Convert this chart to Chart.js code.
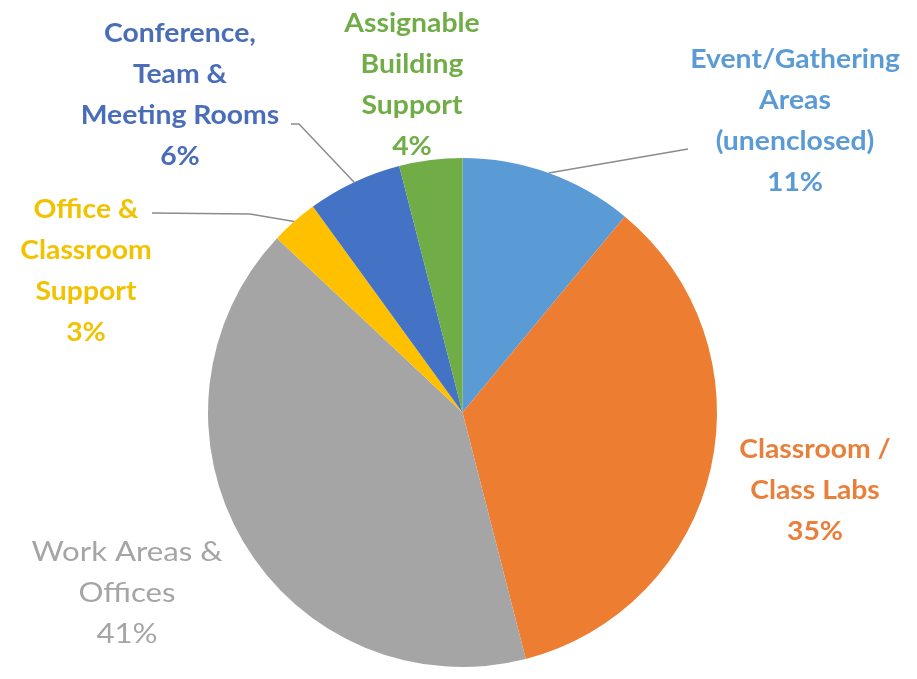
<!DOCTYPE html>
<html>
<head>
<meta charset="utf-8">
<title>Space Allocation</title>
<script src="https://cdn.jsdelivr.net/npm/chart.js@4/dist/chart.umd.min.js"></script>
<style>
    html, body { margin: 0; padding: 0; background: #ffffff; }
    #wrap { width: 917px; height: 679px; position: relative; }
</style>
</head>
<body>
<div id="wrap"><canvas id="spaceChart" width="917" height="679"></canvas></div>
<script>
// Space categories, clockwise from 12 o'clock
var categories = [
    ['Event/Gathering', 'Areas', '(unenclosed)'],
    ['Classroom /', 'Class Labs'],
    ['Work Areas &', 'Offices'],
    ['Office &', 'Classroom', 'Support'],
    ['Conference,', 'Team &', 'Meeting Rooms'],
    ['Assignable', 'Building', 'Support']
];
var shares = [11, 35, 41, 3, 6, 4];
var sliceColors = ['#5b9bd5', '#ed7d31', '#a5a5a5', '#ffc000', '#4472c4', '#70ad47'];
var textColors = ['#5b9bd5', '#e8803c', '#a5a5a5', '#f2c200', '#4a6db8', '#70ad47'];

// Where each label block sits (centre x, first line y) and where its leader line bends
var labelSpots = [
    { x: 795, y: 60, leader: [688, 149] },
    { x: 815, y: 450 },
    { x: 127, y: 553, weight: 'normal', stretch: 1.2 },
    { x: 86, y: 210, leader: [152, 213], bend: [250, 214] },
    { x: 180, y: 34, leader: [291, 124], bend: [299, 124] },
    { x: 412, y: 24 }
];

var lineHeight = 41;

// Draws the text labels and leader lines
var sliceLabels = {
    id: 'sliceLabels',
    afterDatasetsDraw: function(chart) {
        var ctx = chart.ctx;
        var arcs = chart.getDatasetMeta(0).data;
        ctx.save();

        // Leader lines from mid of outer arc
        ctx.strokeStyle = '#8c8c8c';
        ctx.lineWidth = 1.5;
        arcs.forEach(function(arc, i) {
            var spot = labelSpots[i];
            if (!spot.leader) return;
            var p = arc.getProps(['x', 'y', 'startAngle', 'endAngle', 'outerRadius'], true);
            var mid = (p.startAngle + p.endAngle) / 2;
            var ex = p.x + Math.cos(mid) * p.outerRadius;
            var ey = p.y + Math.sin(mid) * p.outerRadius;
            ctx.beginPath();
            ctx.moveTo(spot.leader[0], spot.leader[1]);
            if (spot.bend) ctx.lineTo(spot.bend[0], spot.bend[1]);
            ctx.lineTo(ex, ey);
            ctx.stroke();
        });

        // Label text (Calibri-like text is a bit wider, so stretch it sideways)
        ctx.textAlign = 'center';
        ctx.textBaseline = 'middle';
        categories.forEach(function(lines, i) {
            var spot = labelSpots[i];
            var rows = lines.concat([shares[i] + '%']);
            var stretch = spot.stretch || 1.09;
            ctx.font = (spot.weight || 'bold') + ' 26px Lato, "Noto Sans", sans-serif';
            ctx.fillStyle = textColors[i];
            rows.forEach(function(row, r) {
                ctx.save();
                ctx.translate(spot.x, spot.y + r * lineHeight);
                ctx.scale(stretch, 1);
                ctx.fillText(row, 0, 0);
                ctx.restore();
            });
        });
        ctx.restore();
    }
};

var ctx = document.getElementById('spaceChart');
new Chart(ctx, {
    type: 'pie',
    data: {
        labels: categories.map(function(c) { return c.join(' '); }),
        datasets: [{
            data: shares,
            backgroundColor: sliceColors,
            borderWidth: 0
        }]
    },
    options: {
        responsive: false,
        animation: false,
        rotation: 0,
        layout: {
            padding: { top: 158, bottom: 12, left: 208, right: 200 }
        },
        plugins: {
            legend: { display: false },
            tooltip: { enabled: false }
        }
    },
    plugins: [sliceLabels]
});
</script>
</body>
</html>
